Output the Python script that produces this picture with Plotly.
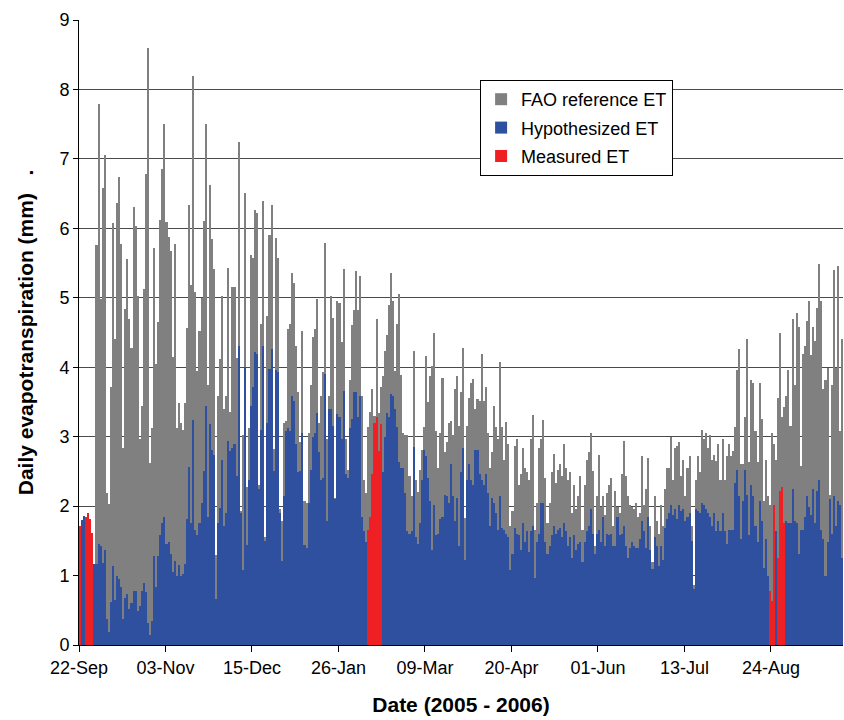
import pandas as pd
import plotly.graph_objects as go

# Daily series, one value per day starting 22-Sep-2005 (371 days)
start_date = "2005-09-22"

fao_et = [
    None, None, None, None, None, None, None, None, 5.76, 7.79,
    4.98, 6.58, 7.06, 2.19, 2.03, 3.72, 6.08, 4.41, 6.37, 6.74,
    5.78, 2.84, 4.84, 5.56, 4.69, 4.28, 6.31, 6.04, 5.02, 2.96,
    3.44, 5.12, 6.78, 8.59, 2.62, 3.12, 5.71, 4.05, 4.65, 6.12,
    6.86, 7.5, 6.09, 5.88, 5.68, 4.15, 5.77, 3.12, 3.49, 3.19,
    3.1, 3.48, 4.56, 6.33, 5.19, 8.19, 5.08, 3.95, 4.52, 4.99,
    6.1, 7.5, 3.75, 6.62, 5.84, 5.42, 1.3, 3.59, 4.12, 5.03,
    3.4, 3.59, 5.43, 3.36, 5.16, 5.15, 4.14, 7.25, 1.93, 3.03,
    6.51, 2.28, 3.12, 5.62, 5.58, 6.27, 6.22, 2.31, 4.62, 6.4,
    1.55, 4.74, 5.9, 6.34, 2.82, 5.86, 5.58, 1.96, 1.78, 3.19,
    3.22, 4.55, 4.62, 5.36, 5.21, 4.3, 3.64, 2.93, 4.52, 2.08,
    2.05, 3.06, 3.75, 4.44, 4.55, 4.98, 3.19, 3.58, 3.93, 5.79,
    2.97, 3.58, 5.03, 4.71, 2.12, 4.96, 4.93, 4.37, 5.42, 2.96,
    2.52, 3.81, 4.61, 4.82, 5.38, 4.83, 5.31, 3.58, 2.37, 2.19,
    3.14, 3.36, 3.68, 3.3, 4.69, 3.34, 3.71, 3.87, 4.24, 4.46,
    4.9, 5.36, 4.96, 3.95, 4.62, 5.05, 3.89, 3.05, 3.02, 3.02,
    2.44, 2.14, 4.24, 2.37, 2.21, 2.52, 2.81, 3.14, 4.16, 3.5,
    3.87, 4.02, 4.5, 3.08, 2.55, 3.05, 3.85, 2.78, 2.93, 3.19,
    3.22, 3.02, 3.69, 3.88, 3.16, 3.64, 4.28, 1.83, 3.16, 3.55,
    3.78, 3.83, 3.4, 3.54, 3.52, 4.19, 3.52, 3.72, 3.06, 2.55,
    2.78, 3.44, 3.14, 2.96, 4.08, 3.14, 2.66, 3.21, 2.9, 1.72,
    1.93, 2.87, 2.96, 2.31, 2.46, 2.84, 2.55, 2.49, 2.37, 2.96,
    3.31, 1.66, 2.05, 2.84, 2.96, 3.24, 2.4, 1.75, 2.05, 2.49,
    2.75, 2.34, 2.52, 2.61, 2.43, 2.9, 2.55, 2.37, 2.49, 1.9,
    2.31, 1.96, 2.14, 2.43, 1.66, 2.31, 2.66, 2.78, 3.05, 2.5,
    1.43, 2.15, 2.74, 1.99, 2.14, 1.87, 2.19, 2.31, 2.4, 1.72,
    2.22, 1.99, 1.9, 2.46, 2.94, 2.43, 2.14, 2.02, 1.99, 1.96,
    2.05, 1.84, 1.9, 2.72, 2.02, 2.25, 2.69, 1.72, 1.19, 2.14,
    1.78, 1.6, 2.02, 1.72, 2.25, 2.55, 2.55, 2.99, 2.37, 2.84,
    2.87, 2.93, 2.43, 2.66, 2.14, 2.55, 2.72, 1.72, 0.87, 2.37,
    2.72, 2.49, 3.09, 2.96, 3.05, 2.84, 3.02, 2.66, 2.74, 2.65,
    2.9, 2.38, 2.96, 2.37, 2.72, 2.9, 2.72, 2.79, 3.14, 3.96,
    4.26, 2.61, 2.61, 3.28, 4.4, 2.64, 3.81, 3.78, 3.08, 2.64,
    3.78, 3.25, 2.08, 2.66, 2.14, 2.02, 3.05, 2.9, 2.66, 3.55,
    4.49, 3.28, 3.43, 3.58, 3.96, 3.16, 4.69, 3.75, 4.78, 4.58,
    2.58, 4.19, 4.31, 4.66, 4.96, 4.18, 4.58, 4.38, 4.85, 5.49,
    4.96, 3.69, 3.81, 3.99, 2.16, 3.75, 5.4, 3.99, 5.46, 3.08,
    4.4,
]

hypothesized_et = [
    None, 1.8, 1.86, None, None, None, None, 1.16, 1.16, 1.46,
    1.43, 1.18, 1.37, 0.37, 0.19, 0.62, 1.14, 0.65, 0.99, 0.95,
    0.84, 0.38, 0.68, 0.74, 0.52, 0.61, 0.78, 0.78, 0.49, 0.56,
    0.78, 0.9, 0.77, 0.31, 0.14, 0.35, 1.28, 0.84, 1.28, 1.59,
    1.75, 1.84, 1.46, 1.49, 1.31, 1.05, 1.21, 0.99, 1.15, 0.99,
    1.02, 1.16, 1.81, 2.56, 1.75, 3.24, 1.65, 1.59, 1.75, 2.05,
    2.5, 3.44, 1.85, 3.18, 2.81, 2.74, 0.66, 1.75, 1.98, 2.66,
    1.72, 1.9, 2.94, 2.8, 2.83, 2.9, 2.43, 4.3, 1.9, 1.08,
    4.0, 1.44, 2.37, 3.44, 3.71, 4.22, 4.19, 2.25, 3.09, 4.3,
    1.5, 3.19, 3.97, 4.26, 2.5, 3.96, 3.93, 1.9, 1.21, 2.15,
    3.08, 3.12, 3.08, 3.59, 3.52, 2.9, 2.49, 2.5, 3.05, 1.44,
    1.4, 2.04, 2.52, 2.99, 3.06, 3.34, 2.78, 2.38, 2.4, 3.9,
    1.79, 3.4, 3.4, 3.16, 2.1, 3.33, 3.28, 2.96, 3.66, 2.46,
    2.4, 3.12, 3.26, 3.64, 3.64, 3.28, 3.59, 1.84, 1.64, 1.49,
    None, None, None, None, None, None, None, 2.49, 2.99, 3.34,
    3.28, 3.61, 3.58, 3.4, 3.14, 2.64, 2.55, 2.55, 2.19, 1.64,
    1.6, 1.64, 2.85, 1.55, 1.46, 1.75, 2.37, 2.81, 2.72, 2.4,
    2.08, 1.37, 2.02, 1.58, 1.6, 1.81, 1.84, 2.16, 2.14, 2.05,
    2.61, 2.14, 1.78, 2.12, 1.43, 2.49, 2.84, 1.22, 2.37, 2.61,
    2.37, 2.31, 2.81, 2.81, 2.46, 2.37, 2.31, 2.46, 2.19, 1.72,
    2.11, 2.05, 1.9, 1.66, 2.14, 1.69, 1.66, 1.6, 1.55, 1.08,
    1.31, 1.69, 1.6, 1.58, 1.37, 1.75, 1.49, 1.64, 1.34, 1.64,
    1.72, 0.96, 1.49, 1.6, 2.05, 2.05, 1.49, 1.31, 1.43, 1.58,
    1.72, 1.6, 1.66, 1.69, 1.55, 1.75, 1.64, 1.43, 1.55, 1.25,
    1.58, 1.37, 1.46, 1.49, 1.19, 1.49, 1.64, 1.72, 1.96, 1.6,
    1.31, 1.6, 1.66, 1.49, 1.84, 1.43, 1.6, 1.58, 1.6, 1.43,
    1.43, 1.84, 1.58, 1.6, 1.72, 1.43, 1.25, 1.4, 1.49, 1.43,
    1.4, 1.4, 1.52, 1.78, 1.64, 1.4, 1.84, 1.37, 1.1, 1.55,
    1.43, 1.14, 1.43, 1.22, 1.69, 1.81, 1.9, 2.02, 1.87, 1.96,
    1.81, 2.02, 1.93, 1.96, 1.78, 1.84, 1.9, 1.5, 0.8, 1.96,
    1.93, 1.9, 2.05, 2.02, 1.96, 1.9, 1.84, 1.72, 1.9, 1.64,
    1.78, 1.64, 1.9, 1.64, 1.46, 1.66, 1.65, 1.66, 2.34, 2.52,
    2.14, 1.52, 2.08, 2.52, 2.16, 1.58, 2.31, 2.14, 1.72, 1.49,
    2.08, 1.78, 1.11, 1.52, 0.99, None, None, None, 1.64, None,
    None, None, None, 1.78, 1.75, 1.75, 2.25, 1.78, 1.75, 1.31,
    1.66, 1.66, 1.84, 2.14, 1.99, 1.87, 2.25, 1.75, 2.22, 2.37,
    1.66, 1.52, 0.99, 1.49, 2.1, 1.6, 2.14, 1.72, 2.08, 2.02,
    1.25,
]

measured_dates = [
    "2005-09-22", "2005-09-25", "2005-09-26", "2005-09-27", "2005-09-28",
    "2006-02-09", "2006-02-10", "2006-02-11", "2006-02-12", "2006-02-13",
    "2006-02-14", "2006-02-15",
    "2006-08-23", "2006-08-24", "2006-08-25", "2006-08-27", "2006-08-28",
    "2006-08-29", "2006-08-30",
]
measured_et = [
    1.72, 1.85, 1.90, 1.82, 1.62,
    1.65, 1.84, 2.46, 3.20, 3.28,
    2.80, 3.18,
    0.78, 0.64, 2.02, 1.25, 2.22,
    2.27, 1.75,
]

tick_dates = ["2005-09-22", "2005-11-03", "2005-12-15", "2006-01-26", "2006-03-09",
              "2006-04-20", "2006-06-01", "2006-07-13", "2006-08-24"]
tick_labels = ["22-Sep", "03-Nov", "15-Dec", "26-Jan", "09-Mar",
               "20-Apr", "01-Jun", "13-Jul", "24-Aug"]

half_day = pd.Timedelta(hours=12)
day_ms = 86400000
days = pd.date_range(start_date, periods=len(fao_et), freq="D") + half_day
meas_x = pd.to_datetime(measured_dates) + half_day

FONT = "Liberation Sans, Arial, sans-serif"

fig = go.Figure()
fig.add_trace(go.Bar(x=days, y=fao_et, name="FAO reference ET", width=day_ms,
                     marker=dict(color="#808080", line=dict(width=0)), legendgroup="a"))
fig.add_trace(go.Bar(x=days, y=hypothesized_et, name="Hypothesized ET", width=day_ms,
                     marker=dict(color="#2F4F9F", line=dict(width=0)), legendgroup="b"))
fig.add_trace(go.Bar(x=meas_x, y=measured_et, name="Measured ET", width=day_ms,
                     marker=dict(color="#EE2024", line=dict(width=0)), legendgroup="c"))

fig.update_layout(
    width=844, height=720,
    margin=dict(l=79, r=1, t=20, b=75),
    paper_bgcolor="white", plot_bgcolor="white",
    barmode="overlay", bargap=0,
    font=dict(family=FONT, color="black", size=18),
    legend=dict(x=0.525, y=0.904, xanchor="left", yanchor="top",
                bgcolor="white", bordercolor="black", borderwidth=1,
                font=dict(size=18, family=FONT), traceorder="grouped",
                tracegroupgap=2, itemwidth=30),
)
fig.update_xaxes(
    type="date", range=["2005-09-22", "2006-09-28"],
    tickmode="array", tickvals=tick_dates, ticktext=tick_labels,
    ticks="outside", ticklen=6, tickcolor="black",
    showline=True, linecolor="black", linewidth=1, showgrid=False,
    tickfont=dict(size=18, family=FONT),
    title=dict(text="<b>Date (2005 - 2006)</b>", font=dict(size=21, family=FONT), standoff=20),
)
fig.update_yaxes(
    range=[0, 9], dtick=1, tick0=0,
    ticks="outside", ticklen=5, tickcolor="black",
    showline=True, linecolor="black", linewidth=1,
    showgrid=True, gridcolor="#4a4a4a", gridwidth=1, zeroline=False,
    tickfont=dict(size=18, family=FONT),
    title=dict(text="<b>Daily evapotranspiration (mm)   .</b>", font=dict(size=21, family=FONT), standoff=20),
)

fig.write_html("out.html")
